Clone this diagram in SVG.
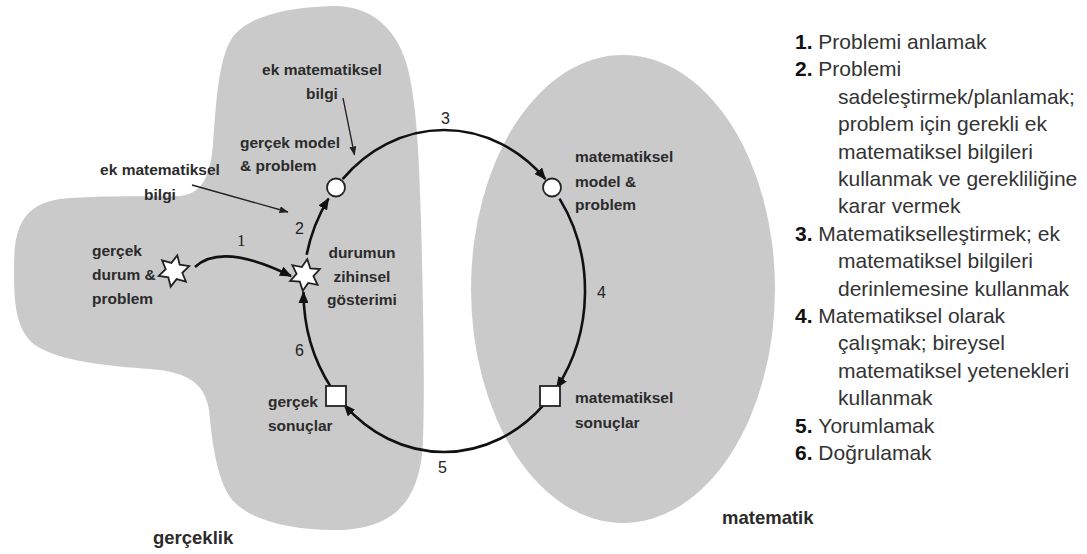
<svg xmlns="http://www.w3.org/2000/svg" xmlns:xlink="http://www.w3.org/1999/xlink" width="1087" height="554" viewBox="0 0 1087 554">
<style>
.region{fill:#cacaca;stroke:none}
.lbl{font-family:"Liberation Sans",Arial,sans-serif;font-weight:bold;font-size:15.5px;fill:#2b2b2b}
.big{font-family:"Liberation Sans",Arial,sans-serif;font-weight:bold;font-size:18.5px;fill:#2b2b2b}
.num{font-family:"Liberation Sans",Arial,sans-serif;font-size:16px;fill:#222}
.list{font-family:"Liberation Sans",Arial,sans-serif;font-size:21px;fill:#333}
.list .b{font-weight:bold;fill:#111}
.thick{fill:none;stroke:#111;stroke-width:2.6}
.thin{fill:none;stroke:#222;stroke-width:1.3}
.node{fill:#fff;stroke:#222;stroke-width:1.8}
</style>
<defs>
<marker id="ah" viewBox="0 0 12 10" refX="11" refY="5" markerWidth="12" markerHeight="10" markerUnits="userSpaceOnUse" orient="auto"><path d="M0,0 L12,5 L0,10 z" fill="#111"/></marker>
<marker id="ahs" viewBox="0 0 9 7" refX="8.5" refY="3.5" markerWidth="9" markerHeight="7" markerUnits="userSpaceOnUse" orient="auto"><path d="M0,0 L9,3.5 L0,7 z" fill="#222"/></marker>
<polygon id="star" points="0,-16 4.25,-7.36 13.86,-8 8.5,0 13.86,8 4.25,7.36 0,16 -4.25,7.36 -13.86,8 -8.5,0 -13.86,-8 -4.25,-7.36"/>
</defs>
<rect width="1087" height="554" fill="#fff"/>
<g id="gerceklik-region">
<path class="region" d="M330,6 C372,4 396,30 406,62 C416,95 419,150 421,220 C423,300 425,380 423,440 C421,500 395,530 335,530 C285,530 245,518 230,497 C216,476 212,440 209,410 C205,385 190,372 150,369 C110,366 60,362 35,345 C15,330 14,300 14,270 C14,235 18,205 60,199 C100,195 150,197 178,196 C200,195 210,180 213,145 C216,105 218,60 232,38 C248,16 285,8 330,6 Z"/>
<text class="big" x="153" y="544">gerçeklik</text>
</g>
<g id="matematik-region">
<ellipse class="region" cx="623" cy="289" rx="152" ry="234"/>
<text class="big" x="722" y="524">matematik</text>
</g>
<g id="connectors">
<path class="thick" d="M195,267 Q222,242 291,276" marker-end="url(#ah)"/>
<path class="thick" d="M306.6,254.8 A141,161 0 0 1 328.5,198.6" marker-end="url(#ah)"/>
<path class="thick" d="M342.6,179.1 A141,161 0 0 1 545.4,179.1" marker-end="url(#ah)"/>
<path class="thick" d="M559.5,198.6 A141,161 0 0 1 556.6,387.9" marker-end="url(#ah)"/>
<path class="thick" d="M543.7,404.8 A141,161 0 0 1 344.3,404.8" marker-end="url(#ah)"/>
<path class="thick" d="M331.4,387.9 A141,161 0 0 1 303.5,292" marker-end="url(#ah)"/>
<path class="thin" d="M343,98 L354.5,155" marker-end="url(#ahs)"/>
<path class="thin" d="M192,185 L288,212" marker-end="url(#ahs)"/>
<text class="num" x="237" y="246" style="font-family:'Liberation Serif',serif;font-size:17px">1</text>
<text class="num" x="295" y="234">2</text>
<text class="num" x="441" y="124">3</text>
<text class="num" x="597" y="298">4</text>
<text class="num" x="438" y="473">5</text>
<text class="num" x="295" y="356">6</text>
</g>
<g id="n-gercek-durum">
<use xlink:href="#star" href="#star" class="node" transform="translate(174,271) rotate(12)"/>
<text class="lbl" x="92"><tspan x="92" y="256">gerçek</tspan><tspan x="92" y="280">durum &amp;</tspan><tspan x="92" y="304">problem</tspan></text>
</g>
<g id="n-zihinsel">
<use xlink:href="#star" href="#star" class="node" transform="translate(305,275) rotate(8)"/>
<text class="lbl" text-anchor="middle"><tspan x="362" y="258">durumun</tspan><tspan x="362" y="282">zihinsel</tspan><tspan x="362" y="305">gösterimi</tspan></text>
</g>
<g id="n-gercek-model">
<circle class="node" cx="336" cy="187.5" r="9"/>
<text class="lbl"><tspan x="240" y="148">gerçek model</tspan><tspan x="240" y="171">&amp; problem</tspan></text>
</g>
<g id="n-ek-bilgi-top">
<text class="lbl" text-anchor="middle"><tspan x="322" y="75">ek matematiksel</tspan><tspan x="322" y="99">bilgi</tspan></text>
</g>
<g id="n-ek-bilgi-left">
<text class="lbl" text-anchor="middle"><tspan x="160" y="175">ek matematiksel</tspan><tspan x="160" y="200">bilgi</tspan></text>
</g>
<g id="n-mat-model">
<circle class="node" cx="552" cy="187.5" r="9"/>
<text class="lbl"><tspan x="575" y="162">matematiksel</tspan><tspan x="575" y="187">model &amp;</tspan><tspan x="575" y="210">problem</tspan></text>
</g>
<g id="n-mat-sonuc">
<rect class="node" x="540" y="386" width="20" height="20"/>
<text class="lbl"><tspan x="575" y="403">matematiksel</tspan><tspan x="575" y="428">sonuçlar</tspan></text>
</g>
<g id="n-gercek-sonuc">
<rect class="node" x="326" y="386" width="20" height="20"/>
<text class="lbl"><tspan x="268" y="407">gerçek</tspan><tspan x="268" y="431">sonuçlar</tspan></text>
</g>
<g id="legend">
<text class="list">
<tspan x="795" y="49"><tspan class="b">1. </tspan>Problemi anlamak</tspan>
<tspan x="795" y="76.4"><tspan class="b">2. </tspan>Problemi</tspan>
<tspan x="838" y="103.8">sadeleştirmek/planlamak;</tspan>
<tspan x="838" y="131.2">problem için gerekli ek</tspan>
<tspan x="838" y="158.6">matematiksel bilgileri</tspan>
<tspan x="838" y="186">kullanmak ve gerekliliğine</tspan>
<tspan x="838" y="213.4">karar vermek</tspan>
<tspan x="795" y="240.8"><tspan class="b">3. </tspan>Matematikselleştirmek; ek</tspan>
<tspan x="838" y="268.2">matematiksel bilgileri</tspan>
<tspan x="838" y="295.6">derinlemesine kullanmak</tspan>
<tspan x="795" y="323"><tspan class="b">4. </tspan>Matematiksel olarak</tspan>
<tspan x="838" y="350.4">çalışmak; bireysel</tspan>
<tspan x="838" y="377.8">matematiksel yetenekleri</tspan>
<tspan x="838" y="405.2">kullanmak</tspan>
<tspan x="795" y="432.6"><tspan class="b">5. </tspan>Yorumlamak</tspan>
<tspan x="795" y="460"><tspan class="b">6. </tspan>Doğrulamak</tspan>
</text>
</g>
</svg>
